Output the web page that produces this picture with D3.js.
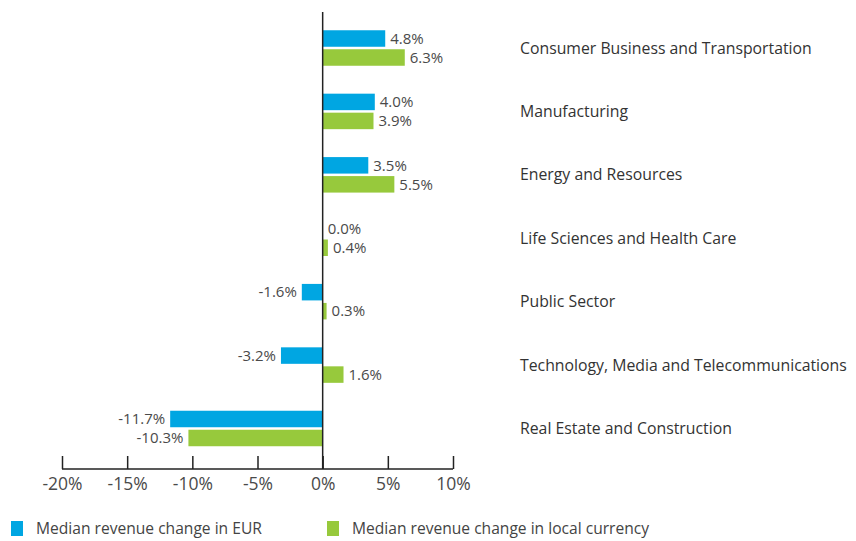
<!DOCTYPE html>
<html><head><meta charset="utf-8">
<script src="https://cdn.jsdelivr.net/npm/d3@7"></script>
<style>
body{margin:0;background:#fff;}
text{font-family:"Open Sans",sans-serif;}
</style></head>
<body>
<svg id="chart" width="856" height="541"></svg>
<script>
const categories = ["Consumer Business and Transportation","Manufacturing","Energy and Resources","Life Sciences and Health Care","Public Sector","Technology, Media and Telecommunications","Real Estate and Construction"];
const eurValues = [4.8, 4.0, 3.5, 0.0, -1.6, -3.2, -11.7];
const localValues = [6.3, 3.9, 5.5, 0.4, 0.3, 1.6, -10.3];
const tickValues = [-20, -15, -10, -5, 0, 5, 10];
const seriesNames = ["Median revenue change in EUR", "Median revenue change in local currency"];
const colors = ["#00A6E2", "#97C93C"];

const svg = d3.select("#chart");
const x = d3.scaleLinear().domain([-20, 10]).range([62, 453]);
const y = d3.scaleBand().domain(categories).range([16.3, 460.2]);
const barH = 16.5, gap = 2.5;
const axisY = 469;

const series = [eurValues, localValues];
series.forEach((vals, si) => {
  const g = svg.append("g");
  g.selectAll("rect").data(vals).enter().append("rect")
    .attr("x", d => x(Math.min(0, d)))
    .attr("width", d => Math.abs(x(d) - x(0)))
    .attr("y", (d, i) => y(categories[i]) + y.bandwidth()/2 + (si === 0 ? -(barH + gap/2) : gap/2))
    .attr("height", barH)
    .attr("fill", colors[si]);
  g.selectAll("text").data(vals).enter().append("text")
    .attr("x", d => d < 0 ? x(d) - 5 : x(d) + 5)
    .attr("y", (d, i) => y(categories[i]) + y.bandwidth()/2 + (si === 0 ? -(barH + gap/2) : gap/2) + barH/2)
    .attr("dy", "0.35em")
    .attr("text-anchor", d => d < 0 ? "end" : "start")
    .attr("font-size", 15)
    .attr("fill", "#4a4a4a")
    .text(d => d.toFixed(1) + "%");
});

// zero line
svg.append("line").attr("x1", x(0)).attr("x2", x(0)).attr("y1", 12).attr("y2", axisY)
  .attr("stroke", "#222").attr("stroke-width", 1.5);

// axis
const axis = d3.axisTop(x).tickValues(tickValues).tickSize(13).tickFormat(d => d + "%");
const ag = svg.append("g").attr("transform", `translate(0,${axisY})`).call(axis);
ag.select(".domain").attr("d", `M${x(-20)},0H${x(10)}`).attr("stroke", "#222").attr("stroke-width", 1.5);
ag.selectAll(".tick line").attr("stroke", "#222").attr("stroke-width", 1.5);
ag.selectAll(".tick text").attr("y", 9).attr("dy", "0.71em")
  .attr("font-size", 17.5).attr("fill", "#4a4a4a").attr("font-family", "'Open Sans',sans-serif");

// category labels
svg.append("g").selectAll("text").data(categories).enter().append("text")
  .attr("x", 520).attr("y", d => y(d) + y.bandwidth()/2).attr("dy", "0.35em")
  .attr("font-size", 15.8).attr("fill", "#333").text(d => d);

// legend
const legX = [11, 327];
seriesNames.forEach((name, i) => {
  svg.append("rect").attr("x", legX[i]).attr("y", 521).attr("width", 12).attr("height", 15).attr("fill", colors[i]);
  svg.append("text").attr("x", legX[i] + 25).attr("y", 528.5).attr("dy", "0.35em")
    .attr("font-size", 15.6).attr("fill", "#444").text(name);
});
</script>
</body></html>
